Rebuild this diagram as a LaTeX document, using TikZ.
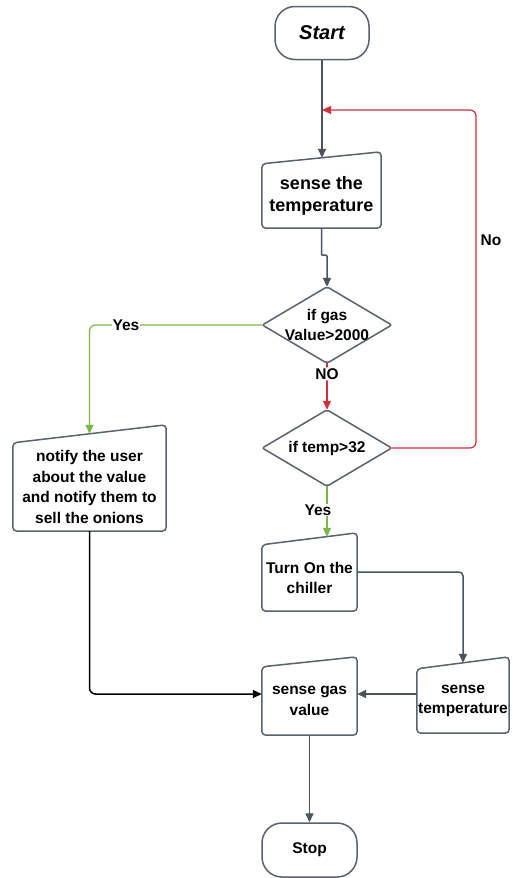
\documentclass[tikz,border=0pt]{standalone}
\usepackage{fontspec}
\setmainfont{Liberation Sans}
\usetikzlibrary{arrows.meta}
\definecolor{lgrey}{HTML}{4B535E}
\definecolor{bgrey}{HTML}{5A626C}
\definecolor{lred}{HTML}{D0313C}
\definecolor{lgreen}{HTML}{7AB648}
\begin{document}
\begin{tikzpicture}[x=1pt,y=-1pt,
  txt/.style={font=\fontsize{15.5}{20.5}\selectfont\bfseries, align=center, text=black},
  term/.style={txt, rectangle, draw=bgrey, line width=1.5pt, rounded corners=20pt},
  outl/.style={draw=bgrey, line width=1.5pt},
  manual/.style={txt, rectangle, inner sep=1pt,
    append after command={\pgfextra{\draw[outl, rounded corners=4pt]
      (\tikzlastnode.south west) -- (\tikzlastnode.south east) --
      ([yshift=#1]\tikzlastnode.north east) -- (\tikzlastnode.north west) -- cycle;}}},
  dec/.style={txt, rectangle, inner sep=0pt, minimum width=129pt, minimum height=76pt,
    append after command={\pgfextra{\draw[outl, rounded corners=2pt]
      (\tikzlastnode.north) -- (\tikzlastnode.east) --
      (\tikzlastnode.south) -- (\tikzlastnode.west) -- cycle;}}},
  tip/.style={-{Triangle[length=9pt,width=8pt]}},
  ln/.style={draw=lgrey, line width=1.5pt, tip, rounded corners=4pt},
  lnred/.style={draw=lred, line width=1.2pt, tip, rounded corners=6pt},
  lngreen/.style={draw=lgreen, line width=1.2pt, tip, rounded corners=6pt},
  lnblack/.style={draw=black, line width=1.5pt, tip, rounded corners=6pt},
  lbl/.style={txt, fill=white, inner sep=1pt}
]
\fill[white] (0,0) rectangle (512,878);
\useasboundingbox (0,0) rectangle (512,878);

% nodes
\node[term, minimum width=94pt, minimum height=53pt,
  font=\fontsize{20}{24}\selectfont\bfseries\itshape] (start) at (322,33) {Start};
\node[manual=12pt, minimum width=119pt, minimum height=64pt,
  font=\fontsize{18}{22}\selectfont\bfseries] (s1) at (321.5,196) {sense the\\temperature};
\node[dec] (d1) at (327,325) {if gas\\Value>2000};
\node[dec] (d2) at (327,448) {if temp>32};
\node[manual=18pt, minimum width=153pt, minimum height=88pt] (notify) at (89.5,487)
  {notify the user\\about the value\\and notify them to\\sell the onions};
\node[manual=12pt, minimum width=95pt, minimum height=66pt] (chill) at (309.5,578) {Turn On the\\chiller};
\node[manual=12pt, minimum width=92pt, minimum height=64pt] (st) at (463,701) {sense\\temperature};
\node[manual=10pt, minimum width=95pt, minimum height=68pt] (sgv) at (309.5,701) {sense gas\\value};
\node[term, minimum width=95pt, minimum height=54pt] (stop) at (309.5,850) {Stop};

% helper coordinates
\coordinate (s1top) at ([yshift=6pt]s1.north);
\coordinate (loopin) at (322,110);
\coordinate (rc) at (476,110);
\coordinate (chilltop) at ([yshift=8pt]chill.north);

% connectors
\draw[ln] (start.south) -- (start.south |- s1top);
\draw[ln, rounded corners=1pt] (s1.south) -- ++(0,27) -| (d1.north);
\draw[lnred] (d1.south) -- (d2.north) node[lbl, pos=0.23] (nolbl) {NO};
\draw[lnred] (d2.east) -| (rc) -- (loopin);
\node[txt] (nolbl2) at (491,240) {No};
\draw[lngreen] (d1.west) -| ([yshift=9pt]notify.north);
\node[lbl] (yes1) at (126,325) {Yes};
\draw[lngreen] (d2.south) -- (d2.south |- chilltop);
\node[lbl] (yes2) at (318,510) {Yes};
\draw[ln] ([yshift=6pt]chill.east) -| ([yshift=6pt]st.north);
\draw[ln] ([yshift=7pt]st.west) -- ([yshift=7pt]sgv.east);
\draw[lnblack] (notify.south) |- ([yshift=7pt]sgv.west);
\draw[ln] (sgv.south) -- (stop.north);
\end{tikzpicture}
\end{document}
